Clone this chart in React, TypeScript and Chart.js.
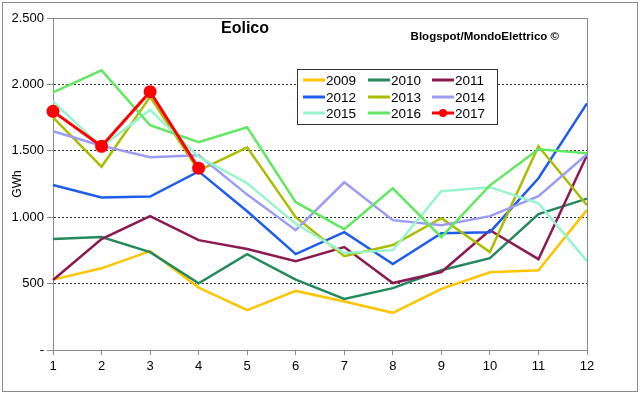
import React, { useEffect, useRef } from 'react';
import { Chart, registerables } from 'chart.js';

Chart.register(...registerables);

const months = ['1', '2', '3', '4', '5', '6', '7', '8', '9', '10', '11', '12'];

const y2009 = [530, 615, 745, 470, 300, 445, 365, 280, 460, 585, 600, 1055];
const y2010 = [835, 850, 737, 502, 722, 530, 385, 466, 600, 692, 1023, 1140];
const y2011 = [527, 835, 1008, 827, 760, 669, 775, 504, 587, 902, 684, 1466];
const y2012 = [1243, 1148, 1155, 1345, 1045, 722, 887, 647, 880, 887, 1293, 1857];
const y2013 = [1752, 1380, 1906, 1350, 1526, 1000, 707, 790, 993, 737, 1534, 1090];
const y2014 = [1647, 1538, 1451, 1466, 1170, 902, 1263, 978, 940, 1008, 1158, 1474];
const y2015 = [1872, 1530, 1808, 1455, 1256, 950, 730, 752, 1196, 1226, 1105, 669];
const y2016 = [1940, 2106, 1692, 1564, 1677, 1113, 910, 1218, 850, 1240, 1511, 1481];
const y2017 = [1797, 1534, 1945, 1369];

const seriesNames = ['2009', '2010', '2011', '2012', '2013', '2014', '2015', '2016', '2017'];
const seriesValues = [y2009, y2010, y2011, y2012, y2013, y2014, y2015, y2016, y2017];
const seriesColors = ['#FFC400', '#24895C', '#8C1A50', '#1E5CF0', '#AABD00', '#9C9CF5', '#96F5CC', '#62E862', '#FF0000'];

const titleText = 'Eolico';
const creditText = 'Blogspot/MondoElettrico \u00A9';
const yAxisTitle = 'GWh';
const yMin = 0;
const yMax = 2500;
const yStep = 500;

const FONT = '"Liberation Sans", Arial, sans-serif';

function fmt(v: number): string {
  if (v === 0) return '-';
  const s = String(Math.round(v));
  return s.length > 3 ? s.slice(0, -3) + '.' + s.slice(-3) : s;
}

const overlayPlugin = {
  id: 'overlay',
  afterDraw(chart: any) {
    const ctx = chart.ctx as CanvasRenderingContext2D;
    const { left, right, top, bottom } = chart.chartArea;
    ctx.save();
    // plot frame (top + right)
    ctx.strokeStyle = '#8a8a8a';
    ctx.lineWidth = 1;
    ctx.beginPath();
    ctx.moveTo(left, top + 0.5);
    ctx.lineTo(right + 0.5, top + 0.5);
    ctx.lineTo(right + 0.5, bottom);
    ctx.stroke();

    // outer border
    ctx.strokeStyle = '#8a8a8a';
    ctx.strokeRect(2.5, 2.5, 635, 389);

    // title
    ctx.fillStyle = '#000';
    ctx.font = 'bold 16px ' + FONT;
    ctx.textAlign = 'center';
    ctx.textBaseline = 'middle';
    ctx.fillText(titleText, 245, 29);

    // credit
    ctx.font = 'bold 11.5px ' + FONT;
    ctx.textAlign = 'right';
    ctx.fillText(creditText, 559, 37);

    // legend
    const bx = 297.5, by = 69.5, bw = 200, bh = 55;
    ctx.fillStyle = '#fff';
    ctx.fillRect(bx, by, bw, bh);
    ctx.strokeStyle = '#333';
    ctx.lineWidth = 1;
    ctx.strokeRect(bx, by, bw, bh);
    const colX = [303, 368, 432];
    const rowY = [80, 97, 113];
    ctx.font = '13.5px ' + FONT;
    ctx.textAlign = 'left';
    ctx.textBaseline = 'middle';
    seriesNames.forEach((name, i) => {
      const cx = colX[i % 3];
      const cy = rowY[Math.floor(i / 3)];
      ctx.strokeStyle = seriesColors[i];
      ctx.lineWidth = 3;
      ctx.beginPath();
      ctx.moveTo(cx, cy);
      ctx.lineTo(cx + 22, cy);
      ctx.stroke();
      if (i === 8) {
        ctx.fillStyle = seriesColors[i];
        ctx.beginPath();
        ctx.arc(cx + 11, cy, 4, 0, Math.PI * 2);
        ctx.fill();
      }
      ctx.fillStyle = '#000';
      ctx.fillText(name, cx + 23, cy + 1);
    });
    ctx.restore();
  },
};

export default function App() {
  const ref = useRef<HTMLCanvasElement | null>(null);

  useEffect(() => {
    document.body.style.margin = '0';
    const canvas = ref.current;
    if (!canvas) return;
    const datasets = seriesNames.map((name, i) => ({
      label: name,
      data: seriesValues[i],
      borderColor: seriesColors[i],
      backgroundColor: seriesColors[i],
      borderWidth: i === 8 ? 3 : 2.5,
      pointRadius: i === 8 ? 5 : 0,
      pointHoverRadius: i === 8 ? 5 : 0,
      pointBackgroundColor: seriesColors[i],
      pointBorderColor: seriesColors[i],
      tension: 0,
      fill: false,
      order: seriesNames.length - i,
    }));

    const chart = new Chart(canvas, {
      type: 'line',
      data: { labels: months, datasets },
      options: {
        responsive: false,
        animation: false,
        events: [],
        layout: { padding: { left: 0, top: 18, right: 53, bottom: 0 } },
        plugins: {
          legend: { display: false },
          tooltip: { enabled: false },
          title: { display: false },
        },
        scales: {
          x: {
            offset: false,
            grid: {
              display: true,
              drawOnChartArea: false,
              drawTicks: true,
              tickLength: 5,
              tickColor: '#8a8a8a',
            },
            border: { display: true, color: '#8a8a8a', width: 1 },
            ticks: {
              color: '#000',
              font: { family: FONT, size: 13 },
              padding: 4,
              maxRotation: 0,
              autoSkip: false,
            },
            afterFit: (scale: any) => {
              scale.height = 45;
            },
          },
          y: {
            min: yMin,
            max: yMax,
            grid: {
              color: (c: any) =>
                c.tick && (c.tick.value === yMin || c.tick.value === yMax) ? 'rgba(0,0,0,0)' : '#333',
              lineWidth: 1,
              drawTicks: true,
              tickLength: 6,
              tickColor: '#8a8a8a',
            },
            border: { display: true, color: '#8a8a8a', width: 1, dash: [2, 2] },
            ticks: {
              stepSize: yStep,
              color: '#000',
              font: { family: FONT, size: 13 },
              padding: 3,
              callback: (v: any) => fmt(Number(v)),
            },
            title: {
              display: true,
              text: yAxisTitle,
              color: '#000',
              font: { family: FONT, size: 12 },
              padding: { top: 10, bottom: 0 },
            },
            afterFit: (scale: any) => {
              scale.width = 53;
            },
          },
        },
      },
      plugins: [overlayPlugin],
    });
    return () => chart.destroy();
  }, []);

  return (
    <div style={{ width: 640, height: 395, background: '#fff' }}>
      <canvas ref={ref} width={640} height={395} style={{ display: 'block' }} />
    </div>
  );
}
